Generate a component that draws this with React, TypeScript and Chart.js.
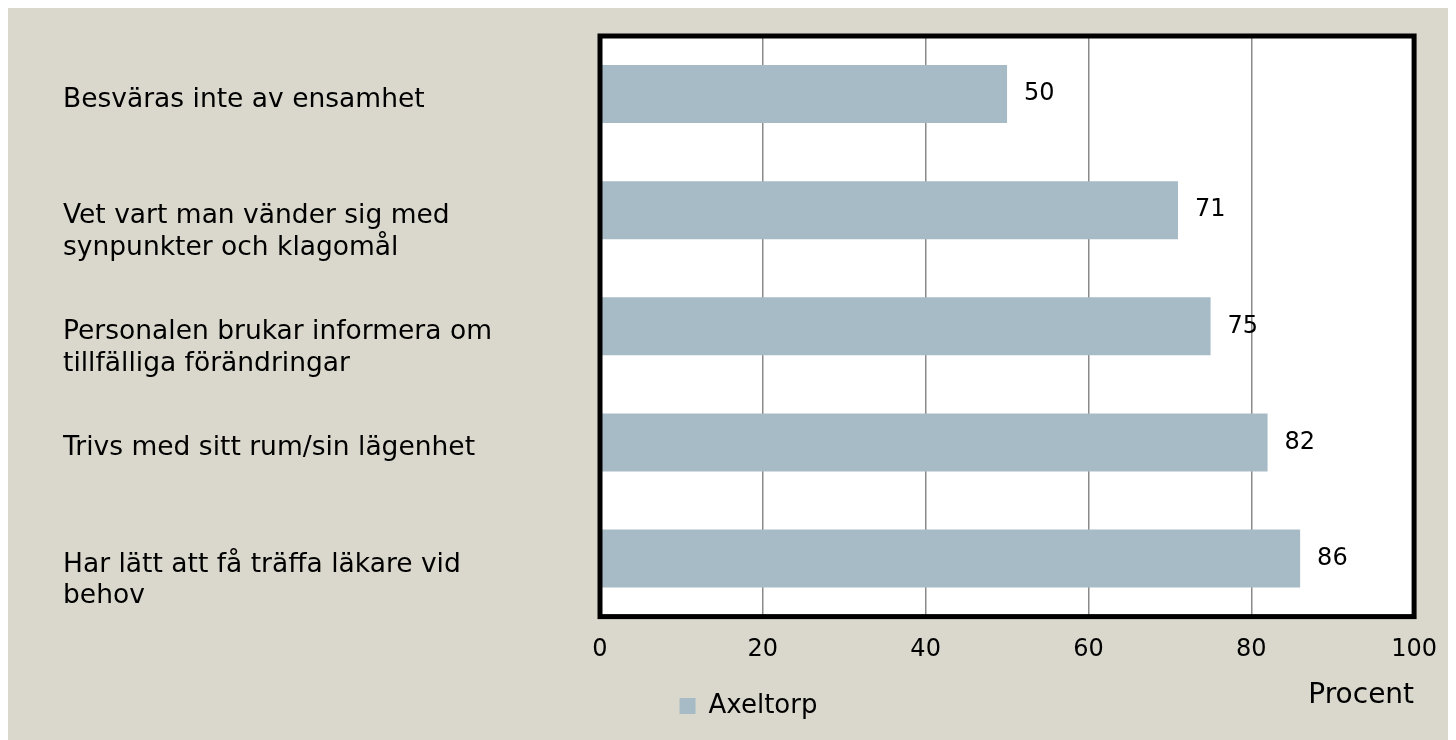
import React, { useEffect, useRef } from "react";
import { Chart, registerables } from "chart.js";
Chart.register(...registerables);

const categories: string[][] = [
  ["Besväras inte av ensamhet", ""],
  ["Vet vart man vänder sig med", "synpunkter och klagomål"],
  ["Personalen brukar informera om", "tillfälliga förändringar"],
  ["Trivs med sitt rum/sin lägenhet", ""],
  ["Har lätt att få träffa läkare vid", "behov"],
];
const seriesName = "Axeltorp";
const values: number[] = [50, 71, 75, 82, 86];
const xTicks: number[] = [0, 20, 40, 60, 80, 100];
const axisTitle = "Procent";

const FONT = "DejaVu Sans";

export default function App() {
  const ref = useRef<HTMLCanvasElement>(null);
  useEffect(() => {
    document.documentElement.style.overflow = "hidden";
    const chart = new Chart(ref.current!, {
      type: "bar",
      data: {
        labels: categories,
        datasets: [
          {
            label: seriesName,
            data: values,
            backgroundColor: "#a7bbc6",
            barPercentage: 0.5,
            categoryPercentage: 1,
          },
        ],
      },
      options: {
        indexAxis: "y",
        animation: false,
        responsive: false,
        layout: { padding: { left: 55, right: 22, top: 28, bottom: 11 } },
        scales: {
          x: {
            min: 0,
            max: 100,
            afterBuildTicks: (s: any) => {
              s.ticks = xTicks.map((v) => ({ value: v }));
            },
            grid: { color: "#8a8a8a", lineWidth: 1.5, drawTicks: false },
            border: { display: false },
            ticks: { font: { family: FONT, size: 24 }, color: "#000", padding: 19 },
            title: {
              display: true,
              text: axisTitle,
              align: "end",
              font: { family: FONT, size: 28 },
              color: "#000",
              padding: { top: -4, bottom: -30 },
            },
          },
          y: {
            afterFit: (s: any) => {
              s.width = 592 - 55;
              s.paddingTop = 0;
              s.paddingBottom = 0;
            },
            grid: { display: false },
            border: { display: false },
            ticks: {
              crossAlign: "far",
              labelOffset: 22,
              font: { family: FONT, size: 26.5 },
              color: "#000",
            },
          },
        },
        plugins: {
          legend: {
            position: "bottom",
            labels: { boxWidth: 16, boxHeight: 16, font: { family: FONT, size: 26 }, color: "#000" },
          },
          tooltip: { enabled: false },
        },
      },
      plugins: [
        {
          id: "plotBackground",
          beforeDraw(ch: any) {
            const a = ch.chartArea;
            const ctx = ch.ctx;
            ctx.save();
            ctx.fillStyle = "#ffffff";
            ctx.fillRect(a.left, a.top, a.right - a.left, a.bottom - a.top);
            ctx.restore();
          },
        },
        {
          id: "frameAndLabels",
          afterDatasetsDraw(ch: any) {
            const ctx = ch.ctx;
            const a = ch.chartArea;
            ctx.save();
            ctx.strokeStyle = "#000";
            ctx.lineWidth = 5;
            ctx.strokeRect(a.left, a.top, a.right - a.left, a.bottom - a.top);
            const meta = ch.getDatasetMeta(0);
            ctx.fillStyle = "#000";
            ctx.font = `24px "${FONT}"`;
            ctx.textAlign = "left";
            ctx.textBaseline = "middle";
            meta.data.forEach((bar: any, i: number) => {
              ctx.fillText(String(values[i]), bar.x + 17, bar.y);
            });
            ctx.restore();
          },
        },
      ],
    });
    return () => chart.destroy();
  }, []);
  return (
    <div style={{ width: 1448, height: 732, background: "#dad8cc" }}>
      <canvas ref={ref} width={1448} height={732} style={{ display: "block" }} />
    </div>
  );
}
